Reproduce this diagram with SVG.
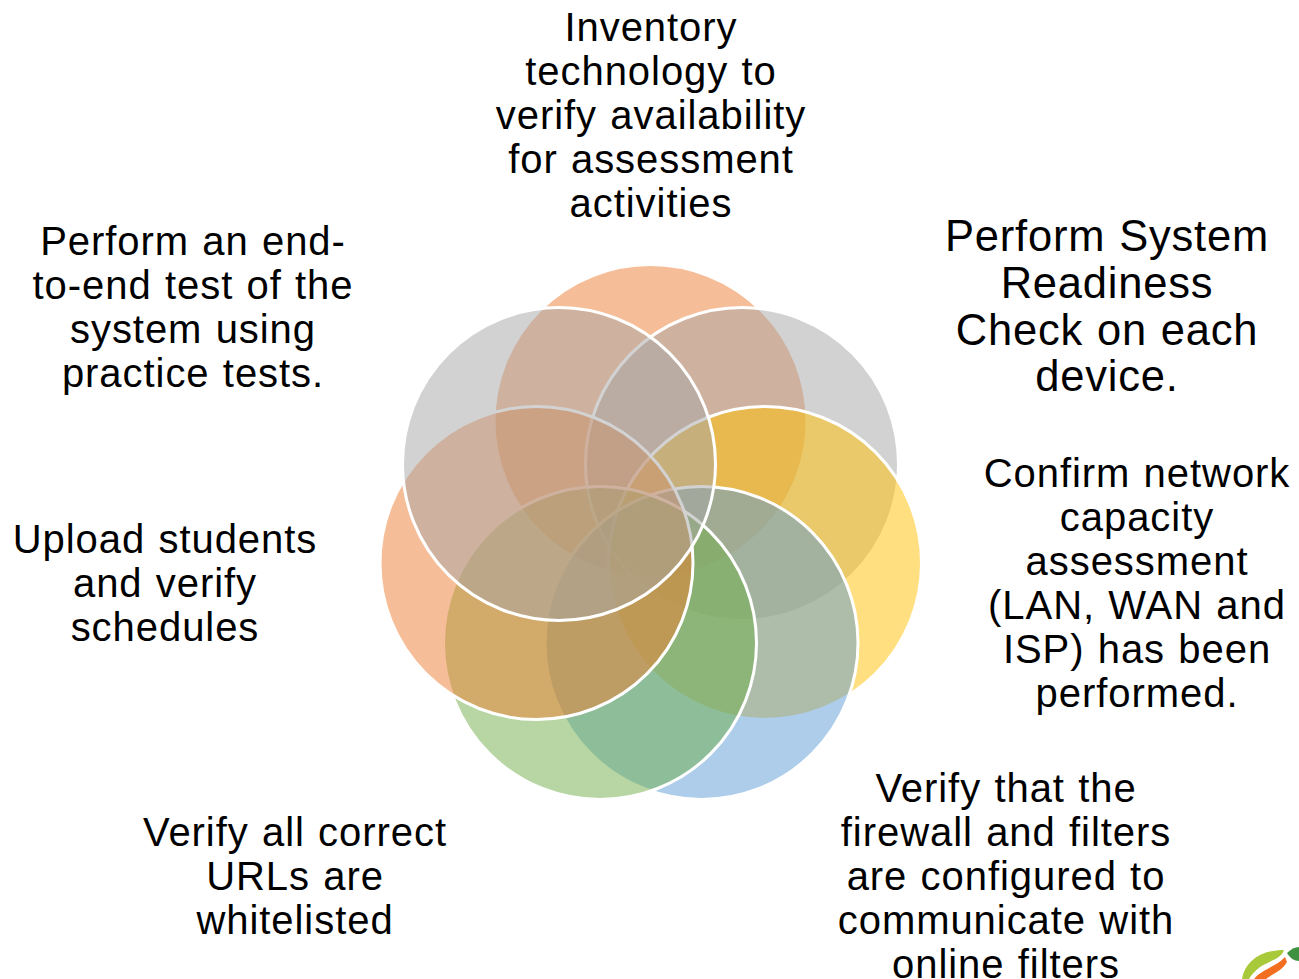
<svg xmlns="http://www.w3.org/2000/svg" width="1299" height="979" viewBox="0 0 1299 979">
<style>
.c{fill-opacity:.5;stroke:#fff;stroke-width:3}
text{font-family:"Liberation Sans",Arial,sans-serif;font-size:40px;letter-spacing:.95px;word-spacing:1.2px;fill:#000;text-anchor:middle}
.b{font-size:43.5px;letter-spacing:.8px;word-spacing:1px}
</style>
<rect width="1299" height="979" fill="#fff"/>
<g id="circles">
<circle id="c1" class="c" cx="650.5" cy="421" r="156.5" fill="#ED7D31"/>
<circle id="c2" class="c" cx="742" cy="464" r="156.5" fill="#A5A5A5"/>
<circle id="c3" class="c" cx="765" cy="563" r="156.5" fill="#FFC000"/>
<circle id="c4" class="c" cx="701.5" cy="643" r="156.5" fill="#5B9BD5"/>
<circle id="c5" class="c" cx="600" cy="643" r="156.5" fill="#70AD47"/>
<circle id="c6" class="c" cx="536.5" cy="563" r="156.5" fill="#ED7D31"/>
<circle id="c7" class="c" cx="559" cy="464" r="156.5" fill="#A5A5A5"/>
</g>
<g id="label-top"><text x="651" y="40.5">Inventory</text><text x="651" y="84.5" word-spacing="3">technology to</text><text x="651" y="128.5">verify availability</text><text x="651" y="172.5">for assessment</text><text x="651" y="216.5">activities</text></g>
<g id="label-system"><text class="b" x="1107" y="250.5">Perform System</text><text class="b" x="1107" y="297.5">Readiness</text><text class="b" x="1107" y="344.5">Check on each</text><text class="b" x="1107" y="391">device.</text></g>
<g id="label-network"><text x="1137" y="486.5">Confirm network</text><text x="1137" y="530.5">capacity</text><text x="1137" y="574.5">assessment</text><text x="1137" y="618.5">(LAN, WAN and</text><text x="1137" y="662.5">ISP) has been</text><text x="1137" y="707">performed.</text></g>
<g id="label-firewall"><text x="1006" y="801.5">Verify that the</text><text x="1006" y="845.5">firewall and filters</text><text x="1006" y="889.5">are configured to</text><text x="1006" y="933.5">communicate with</text><text x="1006" y="977.5">online filters</text></g>
<g id="label-urls"><text x="295" y="845.5">Verify all correct</text><text x="295" y="889.5">URLs are</text><text x="295" y="933.5">whitelisted</text></g>
<g id="label-upload"><text x="165" y="552.5">Upload students</text><text x="165" y="596.5">and verify</text><text x="165" y="640.5">schedules</text></g>
<g id="label-e2e"><text x="193" y="254.5">Perform an end-</text><text x="193" y="298.5">to-end test of the</text><text x="193" y="342.5">system using</text><text x="193" y="386.5">practice tests.</text></g>
<g id="logo">
<path d="M1242 979C1245 962 1260 950 1284 950C1281 959 1269 961 1260 967C1255 971 1251 975 1249 979Z" fill="#A8C93A"/>
<path d="M1254 979C1262 969 1276 967 1285 957L1287 962C1282 971 1272 974 1266 979Z" fill="#F26F21"/>
<path d="M1287 953C1291 949 1295 947 1299 947L1299 961C1294 961 1290 958 1287 953Z" fill="#3F9142"/>
</g>
</svg>
